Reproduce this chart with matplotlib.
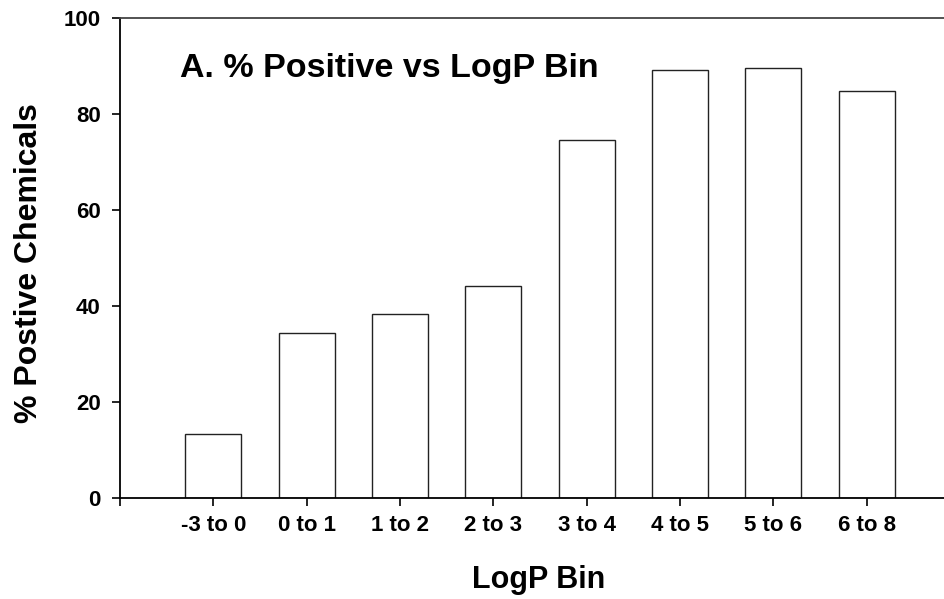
import matplotlib
matplotlib.use("Agg")
import matplotlib.pyplot as plt

plt.rcParams["font.family"] = ["Liberation Sans", "DejaVu Sans"]
plt.rcParams["font.weight"] = "bold"

bins = ["-3 to 0", "0 to 1", "1 to 2", "2 to 3", "3 to 4", "4 to 5", "5 to 6", "6 to 8"]
pct_positive = [13.4, 34.5, 38.3, 44.3, 74.6, 89.2, 89.6, 84.8]
y_ticks = [0, 20, 40, 60, 80, 100]

W, H = 944, 599
fig = plt.figure(figsize=(W / 100, H / 100), dpi=100)
# axes run off the right edge of the picture, like the original
ax = fig.add_axes([120 / W, (H - 498.3) / H, 840 / W, 480.3 / H])

x = list(range(len(bins)))
ax.bar(x, pct_positive, width=0.6, color="white", edgecolor="#222222", linewidth=1.0)

ax.set_xlim(-1, 8)
ax.set_ylim(0, 100)
ax.set_xticks([-1] + x)
ax.set_xticklabels([""] + bins)
ax.set_yticks(y_ticks)

ax.spines["right"].set_visible(False)
ax.spines["top"].set_color("#444444")
for s in ["left", "bottom", "top"]:
    ax.spines[s].set_linewidth(1.3)

ax.tick_params(axis="both", direction="out", length=6, width=1.2, labelsize=16)
ax.tick_params(axis="y", pad=8)
ax.tick_params(axis="x", pad=6)
for lab in ax.get_xticklabels() + ax.get_yticklabels():
    lab.set_fontweight("bold")

fig.text(29 / W, (H - 263) / H, "% Postive Chemicals", rotation=90, ha="center", va="center",
         fontsize=23, fontweight="bold")
fig.text(539 / W, (H - 588.3) / H, "LogP Bin", ha="center", va="baseline",
         fontsize=22, fontweight="bold")
fig.text(180 / W, (H - 76.7) / H, "A. % Positive vs LogP Bin", ha="left", va="baseline",
         fontsize=24.5, fontweight="bold")

fig.savefig("out.png", dpi=100)
